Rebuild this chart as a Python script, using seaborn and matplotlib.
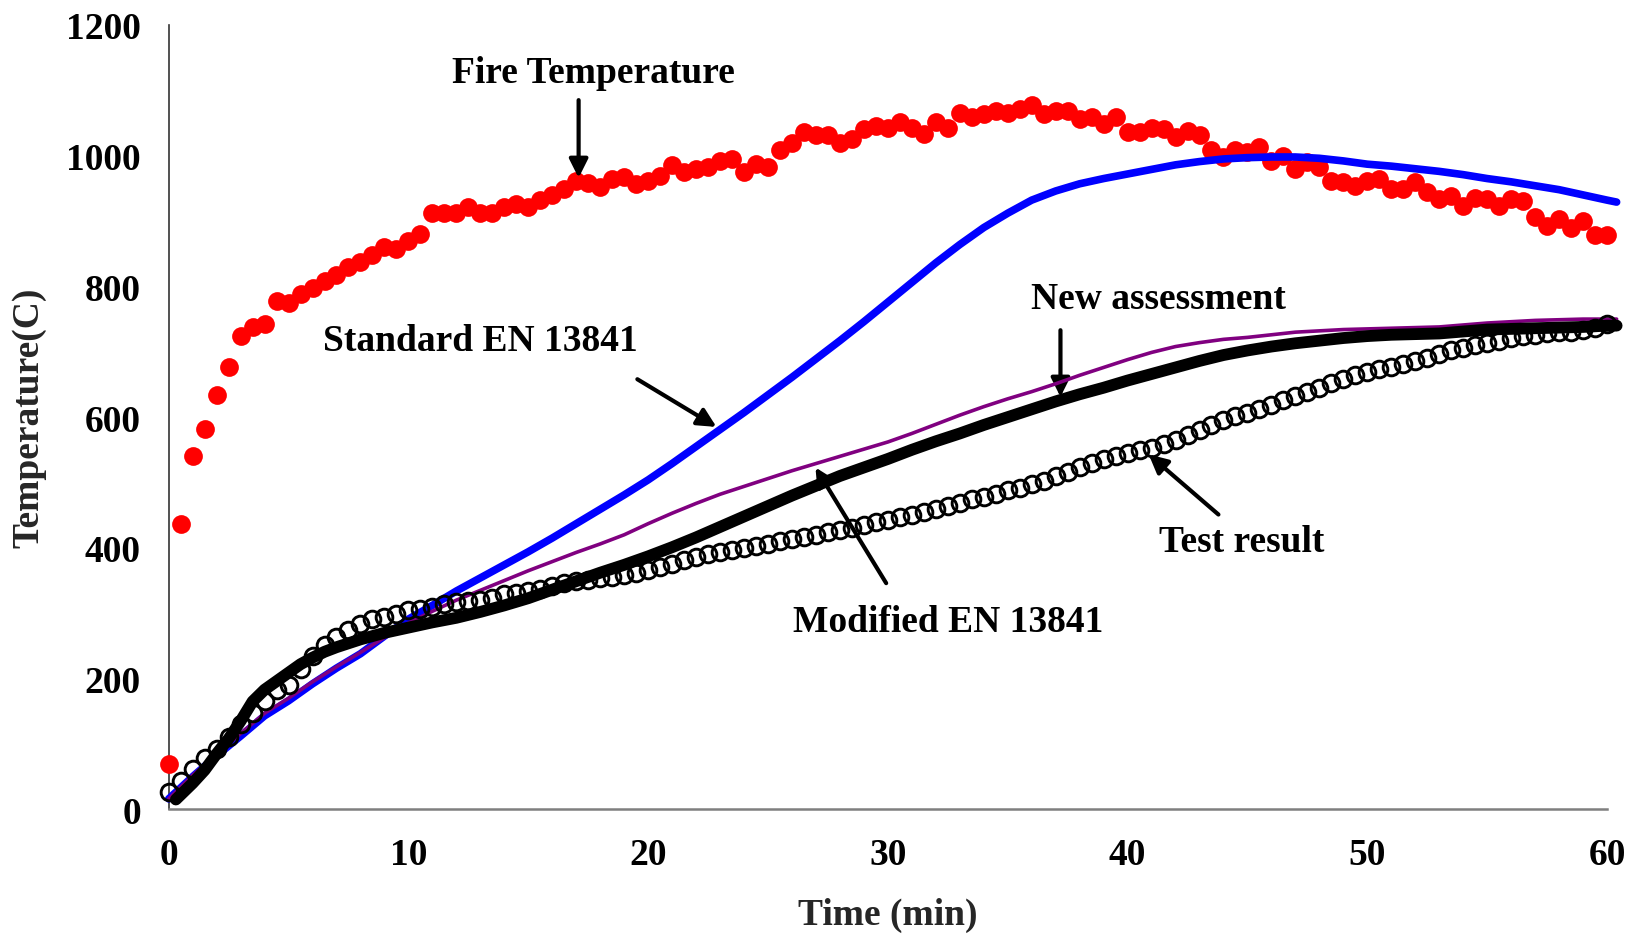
import numpy as np
import pandas as pd
import matplotlib
matplotlib.use("Agg")
import matplotlib.pyplot as plt
import seaborn as sns

# ---------------- data ----------------
fire_t = [i * 0.5 for i in range(121)]
fire_T = [70, 436, 540, 582, 634, 676, 724, 738, 742, 778, 774, 788, 798, 808, 817, 830,
          838, 848, 860, 857, 870, 880, 912, 912, 913, 921, 913, 913, 921, 926, 921, 932,
          940, 949, 962, 958, 952, 964, 967, 957, 962, 969, 985, 975, 980, 982, 992, 995,
          975, 987, 982, 1008, 1020, 1036, 1031, 1031, 1020, 1026, 1041, 1046, 1043, 1051,
          1043, 1033, 1051, 1043, 1066, 1059, 1064, 1069, 1066, 1071, 1077, 1064, 1069, 1068,
          1056, 1059, 1049, 1059, 1036, 1036, 1043, 1041, 1028, 1038, 1031, 1008, 998, 1008,
          1005, 1013, 992, 1000, 980, 990, 982, 962, 959, 954, 962, 964, 949, 949, 959, 944,
          934, 939, 923, 936, 934, 923, 934, 931, 906, 893, 903, 890, 900, 878, 878]

model_t = [0, 1, 2, 3, 4, 5, 6, 7, 8, 9, 10, 11, 12, 13, 14, 15, 16, 17, 18, 19, 20,
           21, 22, 23, 24, 25, 26, 27, 28, 29, 30, 31, 32, 33, 34, 35, 36, 37, 38, 39, 40,
           41, 42, 43, 44, 45, 46, 47, 48, 49, 50, 51, 52, 53, 54, 55, 56, 57, 58, 59, 60,
           60.4]

std_T = [16, 50, 82, 112, 143, 166, 192, 216, 238, 265, 291, 312, 334, 354, 374, 394,
         415, 437, 459, 481, 504, 529, 555, 581, 607, 634, 661, 689, 717, 746, 776, 806,
         836, 864, 890, 912, 932, 946, 957, 965, 972, 979, 986, 991, 995, 997, 998, 998,
         996, 992, 987, 984, 980, 976, 971, 965, 960, 954, 948, 940, 932, 929]

new_T = [16, 52, 84, 116, 147, 170, 195, 218, 240, 263, 285, 303, 320, 335, 350, 365,
         379, 393, 406, 420, 437, 453, 468, 482, 494, 506, 518, 529, 540, 551, 562, 575,
         589, 603, 616, 628, 639, 651, 664, 676, 688, 699, 708, 714, 719, 722, 726, 730,
         732, 734, 735, 736, 737, 738, 741, 744, 746, 748, 749, 750, 750, 750]

mod_t = [0.3, 1, 1.5, 2, 2.5, 3, 3.5, 4, 4.5, 5, 5.5, 6, 6.5, 7, 8, 9, 10, 11, 12, 13, 14,
         15, 16, 17, 18, 19, 20, 21, 22, 23, 24, 25, 26, 27, 28, 29, 30, 31, 32, 33, 34,
         35, 36, 37, 38, 39, 40, 41, 42, 43, 44, 45, 46, 47, 48, 49, 50, 51, 52, 53, 54,
         55, 56, 57, 58, 59, 60, 60.4]
mod_T = [15, 40, 60, 85, 108, 135, 165, 183, 196, 209, 222, 232, 241, 248, 260, 270, 278,
         286, 293, 302, 312, 323, 336, 349, 362, 374, 387, 401, 416, 432, 448, 464, 480,
         495, 510, 523, 536, 550, 563, 575, 588, 600, 612, 624, 635, 645, 656, 666, 676,
         686, 695, 702, 708, 713, 717, 721, 724, 726, 727, 728, 731, 734, 735, 736, 737,
         738, 740, 740]

test_t = [i * 0.5 for i in range(121)]
test_T = [26, 44, 62, 78, 93, 111, 131, 147, 166, 182, 190, 215, 234, 251, 263, 275,
          284, 291, 294, 299, 305, 306, 309, 314, 317, 318, 321, 324, 329, 331, 334, 337,
          341, 346, 350, 351, 354, 356, 358, 361, 366, 370, 376, 381, 386, 390, 394, 397,
          400, 403, 406, 410, 413, 417, 420, 424, 428, 431, 435, 439, 443, 447, 451, 455,
          459, 464, 469, 474, 478, 483, 488, 492, 497, 503, 510, 516, 523, 530, 536, 540,
          545, 549, 553, 559, 565, 572, 581, 588, 595, 601, 607, 613, 619, 626, 632, 639,
          645, 652, 658, 664, 669, 673, 677, 681, 686, 691, 697, 702, 706, 710, 714, 717,
          721, 724, 726, 728, 730, 731, 733, 737, 742]

x_ticks = [0, 10, 20, 30, 40, 50, 60]
y_ticks = [0, 200, 400, 600, 800, 1000, 1200]

# ---------------- style ----------------
sns.set_theme(style="white")
plt.rcParams["font.family"] = ["Liberation Serif", "DejaVu Serif"]
plt.rcParams["font.weight"] = "bold"

fig = plt.figure(figsize=(16.33, 9.37), dpi=100)
ax = fig.add_axes([0.1033, 0.1352, 0.8808, 0.8371])

common = dict(estimator=None, sort=False, ax=ax, legend=False)

sns.lineplot(x=fire_t, y=fire_T, marker="o", linestyle="", color="#ff0000",
             markersize=13.5, markeredgewidth=0, clip_on=False, zorder=3, **common)
sns.lineplot(x=model_t, y=std_T, color="#0000ff", linewidth=5.5,
             clip_on=False, zorder=4, **common)
sns.lineplot(x=model_t, y=new_T, color="#800080", linewidth=2.6,
             clip_on=False, zorder=5, **common)
sns.lineplot(x=mod_t, y=mod_T, color="black", linewidth=8.5,
             clip_on=False, zorder=6, **common)
sns.lineplot(x=test_t, y=test_T, marker="o", linestyle="", markerfacecolor="none",
             markeredgecolor="black", markeredgewidth=2.1, markersize=12,
             clip_on=False, zorder=7, **common)

ax.set_xlim(0, 60)
ax.set_ylim(0, 1200)
ax.set_xticks(x_ticks)
ax.set_yticks(y_ticks)
ax.set_xticklabels([str(v) for v in x_ticks])
ax.set_yticklabels([str(v) for v in y_ticks])

for s in ["top", "right"]:
    ax.spines[s].set_visible(False)
ax.spines["bottom"].set_color("#7f7f7f")
ax.spines["bottom"].set_linewidth(1.8)
ax.spines["left"].set_color("#333333")
ax.spines["left"].set_linewidth(1.2)

ax.tick_params(axis="both", which="major", direction="inout", length=14, width=1.2,
               colors="black", labelsize=27)
ax.tick_params(axis="x", pad=13)
ax.tick_params(axis="y", pad=13)
for lbl in ax.get_xticklabels() + ax.get_yticklabels():
    lbl.set_fontweight("bold")

ax.set_xlabel("Time (min)", fontsize=27, fontweight="bold", labelpad=18)
ax.set_ylabel("Temperature(C)", fontsize=27, fontweight="bold", labelpad=14)

arrow = dict(arrowstyle="-|>", color="black", lw=3, mutation_scale=28,
             shrinkA=0, shrinkB=0)
txt = dict(fontsize=27, fontweight="bold", ha="center", va="center", color="black")

ax.annotate("", xy=(17.1, 966), xytext=(17.1, 1085), arrowprops=arrow, annotation_clip=False)
ax.text(17.72, 1127, "Fire Temperature", **txt)

ax.annotate("", xy=(22.85, 585), xytext=(19.55, 658), arrowprops=arrow)
ax.text(13.0, 717, "Standard EN 13841", **txt)

ax.annotate("", xy=(37.2, 631), xytext=(37.2, 733), arrowprops=arrow)
ax.text(41.3, 781, "New assessment", **txt)

ax.annotate("", xy=(26.98, 523), xytext=(29.93, 346), arrowprops=arrow)
ax.text(32.5, 287, "Modified EN 13841", **txt)

ax.annotate("", xy=(40.88, 543), xytext=(43.79, 451), arrowprops=arrow)
ax.text(44.74, 410, "Test result", **txt)

fig.savefig("out.png", dpi=100, facecolor="white")
